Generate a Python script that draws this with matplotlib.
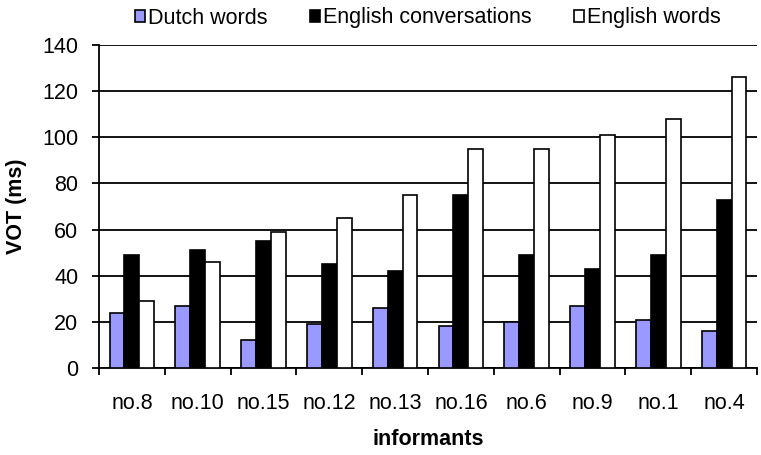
import numpy as np
import matplotlib
matplotlib.use('Agg')
import matplotlib.pyplot as plt

plt.rcParams['font.family'] = ['Liberation Sans', 'DejaVu Sans']

# data
informants = ['no.8', 'no.10', 'no.15', 'no.12', 'no.13', 'no.16', 'no.6', 'no.9', 'no.1', 'no.4']
dutch_words = [24, 27, 12, 19, 26, 18, 20, 27, 21, 16]
english_conv = [49, 51, 55, 45, 42, 75, 49, 43, 49, 73]
english_words = [29, 46, 59, 65, 75, 95, 95, 101, 108, 126]

series = [('Dutch words', dutch_words, '#9999FF'),
          ('English conversations', english_conv, '#000000'),
          ('English words', english_words, '#FFFFFF')]

fig = plt.figure(figsize=(7.61, 4.55), dpi=100)
# plot area: x 99..757 px, y 45..368 px
ax = fig.add_axes([99 / 761, 1 - 368 / 455, 658 / 761, 323 / 455])

x = np.arange(len(informants))
w = 0.225
for i, (name, vals, col) in enumerate(series):
    ax.bar(x + (i - 1) * w, vals, w, color=col, edgecolor='black',
           linewidth=1.2, label=name, zorder=3)

ax.set_ylim(0, 140)
ax.set_xlim(-0.5, len(informants) - 0.5)
ax.set_yticks(np.arange(0, 141, 20))
ax.yaxis.grid(True, color='black', linewidth=1.3, zorder=0)
ax.set_axisbelow(True)

fs = 15.5
ax.set_xticks(x)
ax.set_xticklabels(informants, fontsize=fs)
ax.set_xticks(np.arange(-0.5, len(informants), 1), minor=True)
ax.tick_params(axis='x', which='major', length=0, pad=18)
ax.tick_params(axis='x', which='minor', length=5, width=1.3, direction='out')
ax.tick_params(axis='y', labelsize=fs, length=5, width=1.3, direction='out', pad=10)

for s in ['top', 'right']:
    ax.spines[s].set_visible(False)
for s in ['left', 'bottom']:
    ax.spines[s].set_linewidth(1.3)

ax.set_ylabel('VOT (ms)', fontsize=fs, fontweight='bold', va='center')
ax.yaxis.set_label_coords(-0.126, 0.5)
ax.set_xlabel('informants', fontsize=fs, fontweight='bold', va='center')
ax.xaxis.set_label_coords(0.5, -0.22)

ax.legend(loc='center', bbox_to_anchor=(0.5, 1 + 27 / 323), ncol=3, frameon=False,
          fontsize=fs, handlelength=0.47, handleheight=0.47, handletextpad=0.15,
          columnspacing=1.95, borderpad=0)

fig.savefig('out.png', dpi=100)
